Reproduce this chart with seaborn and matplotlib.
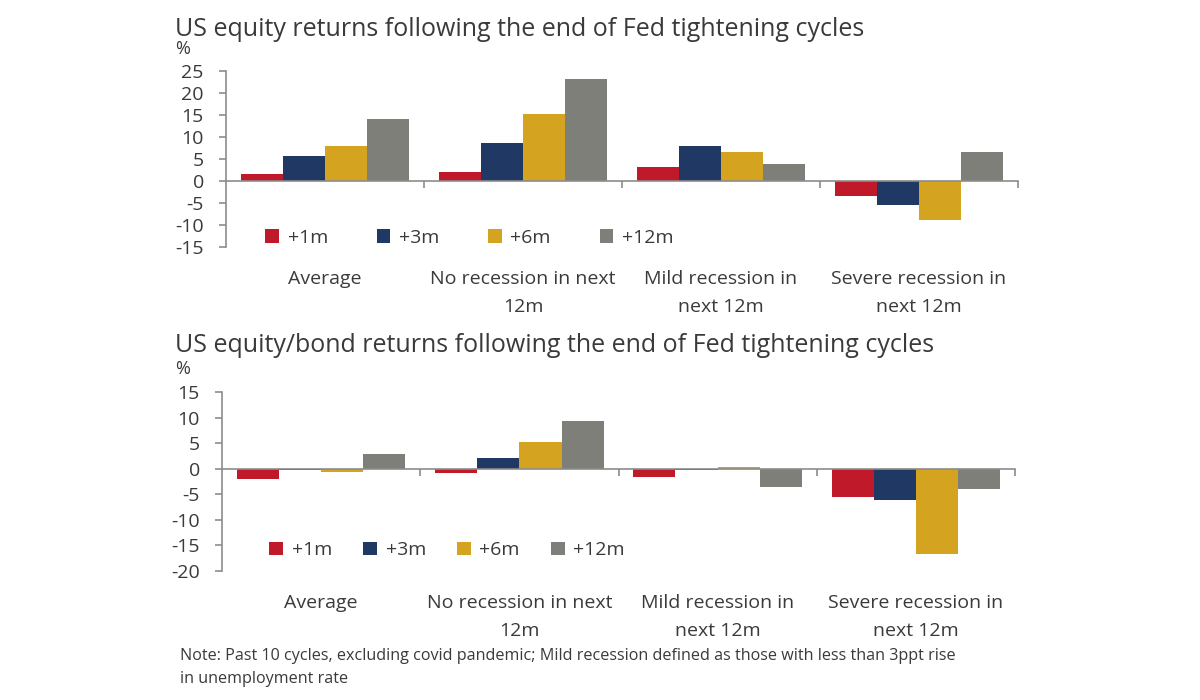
import matplotlib
matplotlib.use("Agg")
import matplotlib.pyplot as plt
import matplotlib.transforms as mtransforms
import pandas as pd
import seaborn as sns

# Data
scenarios = ["Average", "No recession in next\n12m", "Mild recession in\nnext 12m", "Severe recession in\nnext 12m"]
horizons = ["+1m", "+3m", "+6m", "+12m"]

equity_1m = [1.5, 2.1, 3.2, -3.3]
equity_3m = [5.7, 8.6, 7.9, -5.5]
equity_6m = [8.0, 15.3, 6.5, -8.8]
equity_12m = [14.2, 23.1, 3.8, 6.5]

eb_1m = [-2.0, -0.9, -1.6, -5.6]
eb_3m = [-0.2, 2.0, -0.25, -6.2]
eb_6m = [-0.65, 5.2, 0.3, -16.6]
eb_12m = [2.8, 9.4, -3.5, -4.0]

colors = ["#C0192A", "#1F3864", "#D4A31F", "#7F7F7A"]
text_col = "#3A3A3A"
axis_col = "#8C8C8C"


def long_df(series):
    rows = []
    for h, vals in zip(horizons, series):
        for s, v in zip(scenarios, vals):
            rows.append({"scenario": s, "horizon": h, "value": v})
    return pd.DataFrame(rows)


sns.set_style("white")
plt.rcParams["font.family"] = ["Open Sans", "DejaVu Sans"]

fig = plt.figure(figsize=(12, 7), dpi=100)
W, H = 1200, 700


def make_ax(left, right, top, bottom):
    return fig.add_axes([left / W, 1 - bottom / H, (right - left) / W, (bottom - top) / H])


def draw(ax, df, ylim, yticks, colspacing, leg_x, leg_y):
    sns.barplot(data=df, x="scenario", y="value", hue="horizon", palette=colors,
                width=0.85, saturation=1, linewidth=0, ax=ax, errorbar=None)
    ax.set_xlim(-0.5, 3.5)
    ax.set_ylim(*ylim)
    ax.set_yticks(yticks)
    ax.set_yticklabels([str(t) for t in yticks], fontsize=14, color=text_col)
    ax.set_xticks([0.5, 1.5, 2.5, 3.5])
    ax.set_xticklabels([])
    ax.set_xlabel("")
    ax.set_ylabel("")
    for sp in ["top", "right"]:
        ax.spines[sp].set_visible(False)
    ax.spines["bottom"].set_position(("data", 0))
    ax.spines["bottom"].set_color(axis_col)
    ax.spines["left"].set_color(axis_col)
    ax.spines["bottom"].set_linewidth(1.2)
    ax.spines["left"].set_linewidth(1.2)
    ax.tick_params(axis="y", direction="out", length=5, width=1.2, color=axis_col, pad=11, left=True)
    ax.tick_params(axis="x", direction="out", length=5, width=1.2, color=axis_col, bottom=True)
    trans = mtransforms.blended_transform_factory(ax.transData, ax.transAxes)
    for i, s in enumerate(scenarios):
        ax.text(i, -0.13, s, transform=trans, ha="center", va="top", fontsize=14,
                color=text_col, linespacing=1.7)
    ax.legend(ncol=4, loc="lower left", bbox_to_anchor=(leg_x, leg_y), frameon=False,
              fontsize=14, handlelength=0.7, handleheight=0.7, handletextpad=0.45,
              columnspacing=colspacing, labelcolor=text_col, borderaxespad=0.2)


ax1 = make_ax(226, 1018, 71, 247)
draw(ax1, long_df([equity_1m, equity_3m, equity_6m, equity_12m]), (-15, 25),
     list(range(-15, 30, 5)), 2.5, 0.035, -0.065)

ax2 = make_ax(222, 1015, 392, 571)
draw(ax2, long_df([eb_1m, eb_3m, eb_6m, eb_12m]), (-20, 15),
     list(range(-20, 20, 5)), 1.6, 0.045, 0.0)

fig.text(175 / W, 1 - 29 / H, "US equity returns following the end of Fed tightening cycles",
         fontsize=18, color=text_col, va="center", ha="left")
fig.text(175 / W, 1 - 49 / H, "%", fontsize=13, color=text_col, va="center", ha="left")
fig.text(175 / W, 1 - 346 / H, "US equity/bond returns following the end of Fed tightening cycles",
         fontsize=18, color=text_col, va="center", ha="left")
fig.text(175 / W, 1 - 369 / H, "%", fontsize=13, color=text_col, va="center", ha="left")
fig.text(180 / W, 1 - 656 / H,
         "Note: Past 10 cycles, excluding covid pandemic; Mild recession defined as those with less than 3ppt rise",
         fontsize=11.6, color=text_col, va="center", ha="left")
fig.text(180 / W, 1 - 679 / H, "in unemployment rate",
         fontsize=11.6, color=text_col, va="center", ha="left")

fig.savefig("out.png", dpi=100)
